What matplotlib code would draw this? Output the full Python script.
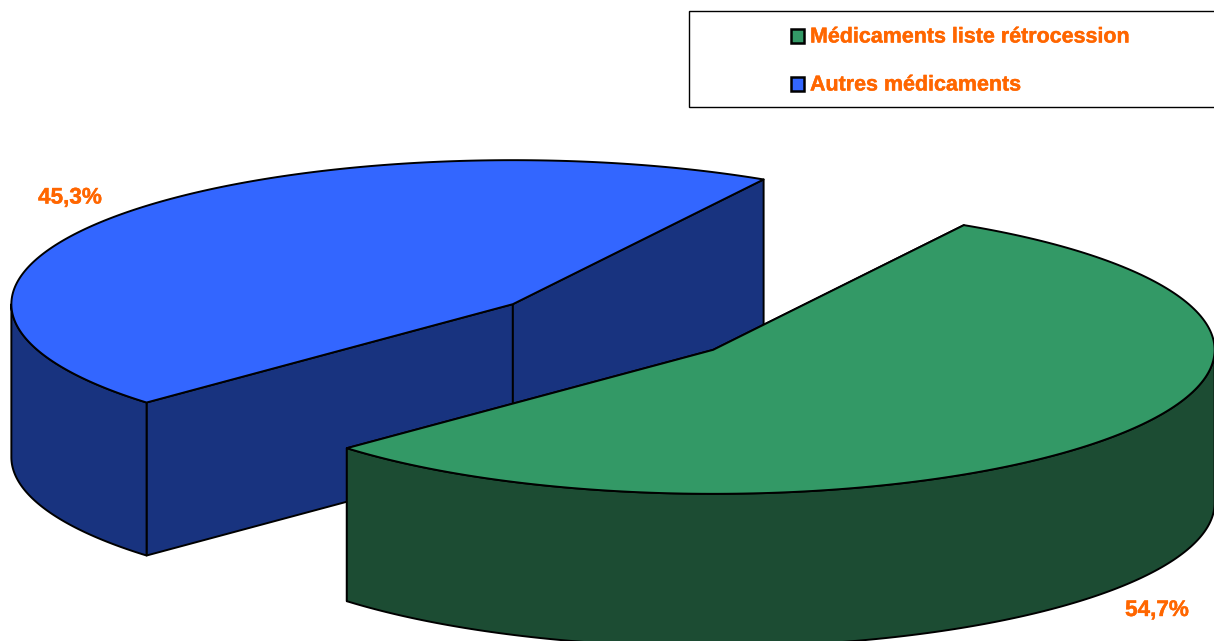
""" Exploded 3D style pie, drawn with polygons since matplotlib has no such pie. """

import matplotlib
matplotlib.use("Agg")
import matplotlib.pyplot as plt
import matplotlib.patheffects as pe
from matplotlib.patches import Polygon, Rectangle
import numpy as np

categories = ["Médicaments liste rétrocession", "Autres médicaments"]
shares = [54.7, 45.3]
value_labels = ["54,7%", "45,3%"]

top_colors = ["#339966", "#3366FF"]
side_colors = ["#1C4C33", "#18337F"]
text_color = "#FF6600"

# pie geometry, in pixels of the reference
CX, CY = 613, 327
RX, RY = 501.5, 144
DEPTH = 153
EXPLODE = 0.255
START_ANGLE = 60


def point(c, angle):
    return c[0] + RX*np.cos(np.radians(angle)), c[1] - RY*np.sin(np.radians(angle))


def arc(c, a0, a1):
    t = np.radians(np.linspace(a0, a1, 200))
    return np.column_stack((c[0] + RX*np.cos(t), c[1] - RY*np.sin(t)))


def add_poly(ax, pts, color, z):
    ax.add_patch(Polygon(pts, closed=True, facecolor=color, edgecolor='black',
                         linewidth=1.4, joinstyle='round', zorder=z))


def draw_wedge(ax, a0, a1, top, side, z):
    """ a0 > a1, wedge goes clockwise on screen from a0 to a1 """
    mid = np.radians((a0 + a1)/2)
    c = (CX + EXPLODE*RX*np.cos(mid), CY - EXPLODE*RY*np.sin(mid))
    down = np.array([0, DEPTH])
    # cut faces first
    for ang in (a0, a1):
        p = np.array(point(c, ang))
        cc = np.array(c)
        add_poly(ax, [cc, p, p + down, cc + down], side, z)
    # outer wall, only the part in front (sin < 0)
    lo, hi = max(a1, -180), min(a0, 0)
    if a0 > 180:
        lo, hi = max(a1, 180), min(a0, 360)
    wall = arc(c, lo, hi)
    add_poly(ax, np.vstack((wall, wall[::-1] + down)), side, z + 0.1)
    add_poly(ax, np.vstack(([c], arc(c, a0, a1))), top, z + 0.2)


def main():
    fig = plt.figure(figsize=(12.14, 6.41), dpi=100)
    ax = fig.add_axes([0, 0, 1, 1])
    ax.set_xlim(0, 1214)
    ax.set_ylim(641, 0)
    ax.axis('off')

    sweep = 360*shares[0]/sum(shares)
    # blue slice sits behind the green one
    draw_wedge(ax, START_ANGLE + 360 - sweep, START_ANGLE, top_colors[1], side_colors[1], 1)
    draw_wedge(ax, START_ANGLE, START_ANGLE - sweep, top_colors[0], side_colors[0], 2)

    heavy = [pe.withStroke(linewidth=0.3, foreground=text_color)]
    font = dict(family='Liberation Sans', fontweight='bold', color=text_color, path_effects=heavy)
    ax.text(1157, 610.5, value_labels[0], ha='center', va='center', fontsize=16.2, zorder=6, **font)
    ax.text(70, 198, value_labels[1], ha='center', va='center', fontsize=16.2, zorder=6, **font)

    ax.add_patch(Rectangle((689, 11), 540, 96, facecolor='white', edgecolor='black',
                           linewidth=1, zorder=5))
    for i, name in enumerate(categories):
        y = 35.5 + 48*i
        ax.add_patch(Rectangle((790.5, y - 7), 13.5, 14, facecolor=top_colors[i],
                               edgecolor='black', linewidth=1.8, zorder=6))
        ax.text(810, y + 1.5, name, ha='left', va='center', fontsize=15.45, zorder=6, **font)

    fig.savefig("out.png", dpi=100)


if __name__ == "__main__":
    main()
